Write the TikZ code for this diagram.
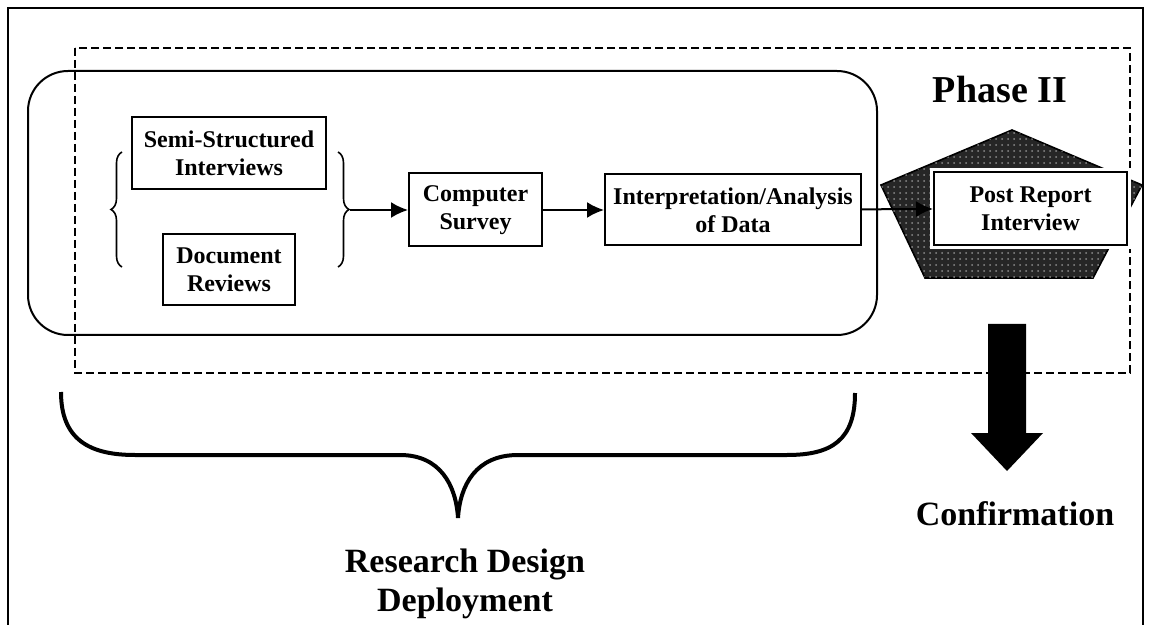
\documentclass[tikz,border=0pt]{standalone}
\usepackage{fontspec}
\setmainfont{Liberation Serif}
\usetikzlibrary{arrows,arrows.meta,positioning,decorations.pathreplacing,patterns}

\begin{document}
\begin{tikzpicture}[
    x=0.5pt, y=-0.5pt,
    >={Latex[length=8.5pt,width=8pt]},
    font=\bfseries,
    block/.style={
		rectangle,
		draw=black,
		line width=1pt,
		align=center,
		inner sep=2pt,
		font=\bfseries\fontsize{12}{14}\selectfont,
		fill=white
	},
	heading/.style={
		align=center,
		font=\bfseries\fontsize{17}{19.5}\selectfont
	},
	smallbrace/.style={
		decorate,
		decoration={brace, amplitude=5.5pt},
		line width=0.8pt
	}
  ]
  \useasboundingbox (0,0) rectangle (1150,625);
    % We start with the frame and the outlines
  \draw [line width=1pt] (8,625) -- (8,8) -- (1143,8) -- (1143,625);
  \draw [dash pattern=on 4pt off 2pt, line width=0.7pt] (75,48) rectangle (1130,373);
  \draw [line width=1pt, rounded corners=20pt] (28,71) rectangle (877,335);

    % the blocks
  \node [block, minimum width=97pt, minimum height=36pt] (semi) at (229,153)
 {Semi-Structured\\Interviews};
  \node [block, minimum width=66pt, minimum height=35.5pt, below=21.5pt of semi] (docs)
 {Document\\Reviews};

  \draw [smallbrace] (122,267) -- (122,152);
  \draw [smallbrace] (338,152) -- (338,267);
  \coordinate (rbtip) at (350,210);

  \node [block, minimum width=66.5pt, minimum height=36.5pt, right=29pt of rbtip] (survey)
 {Computer\\Survey};
  \node [block, minimum width=128pt, minimum height=35.5pt, right=30.5pt of survey] (analysis)
 {Interpretation/Analysis\\of Data};

    % phase II
  \node [font=\bfseries\fontsize{19}{21}\selectfont] (phase) at (1000,90) {Phase II};
  \filldraw [fill=black!85, draw=black, line width=0.8pt]
    (1012,130) -- (1142,185) -- (1093,278) -- (925,278) -- (881,185) -- cycle;
  \fill [pattern=dots, pattern color=black!45]
    (1012,130) -- (1142,185) -- (1093,278) -- (925,278) -- (881,185) -- cycle;
  \node [block, minimum width=96.5pt, minimum height=36.5pt,
    preaction={draw=white, line width=4pt}] (post) at (1030.5,208.5)
 {Post Report\\Interview};

  \draw [->, line width=1pt] (rbtip) -- (survey);
  \draw [->, line width=1pt] (survey) -- (analysis);
  \draw [->, line width=1pt] (analysis) -- (post);

    % confirmation
  \fill (988,324) -- (1026,324) -- (1026,433) -- (1043,433) -- (1007,471)
    -- (971,433) -- (988,433) -- cycle;
  \node [heading] (confirm) at (1015,514) {Confirmation};

    % research design
  \draw [line width=2pt] (61,392) .. controls (61,440) and (90,455) .. (135,455)
    -- (400,455) .. controls (440,455) and (456,485) .. (458,518)
    .. controls (460,485) and (476,455) .. (518,455)
    -- (787,455) .. controls (832,455) and (855,440) .. (855,393);
  \node [heading] (deploy) at (465,584) {Research Design\\Deployment};

\end{tikzpicture}
\end{document}
